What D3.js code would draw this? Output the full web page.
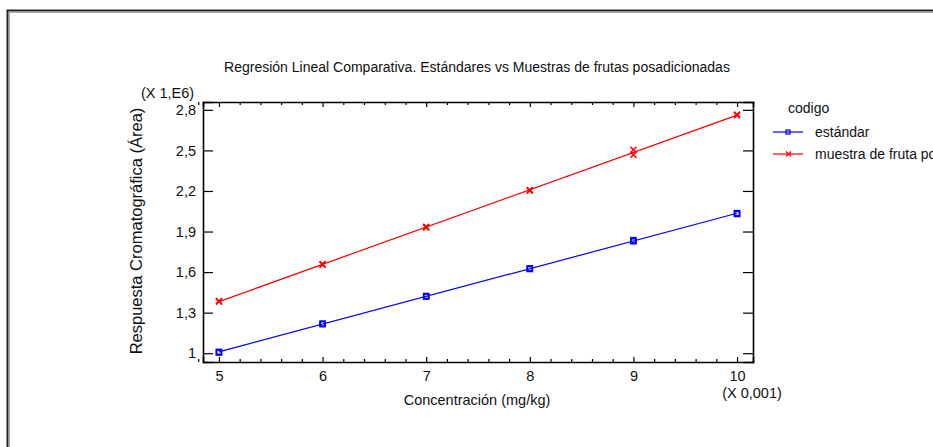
<!DOCTYPE html>
<html>
<head>
<meta charset="utf-8">
<script src="https://cdn.jsdelivr.net/npm/d3@7"></script>
<style>
  body { margin: 0; background: #fff; }
  svg { display: block; font-family: "Liberation Sans", Arial, sans-serif; }
</style>
</head>
<body>
<div id="chart"></div>
<script>
// concentration (X 0,001 mg/kg), each level measured twice
const concentraciones = [5, 5, 6, 6, 7, 7, 8, 8, 9, 9, 10, 10];
// area (X 1,E6)
const estandar = [1.005, 1.01, 1.215, 1.219, 1.419, 1.423, 1.623, 1.627, 1.828, 1.836, 2.030, 2.036];
const muestra = [1.382, 1.386, 1.655, 1.659, 1.930, 1.934, 2.203, 2.207, 2.468, 2.505, 2.760, 2.765];
const xTicks = [5, 6, 7, 8, 9, 10];
const yTicks = [1, 1.3, 1.6, 1.9, 2.2, 2.5, 2.8];
const seriesNames = ["estándar", "muestra de fruta posadicionada"];
const seriesColors = ["#0000ff", "#ff0000"];

const W = 933, H = 447;
const margin = { top: 102, left: 203 },
    width = 753 - margin.left,
    height = 362 - margin.top;

const svg = d3.select("#chart").append("svg")
    .attr("width", W)
    .attr("height", H);

// outer frame (double line)
svg.append("rect").attr("x", 7.5).attr("y", 10.5).attr("width", W + 20).attr("height", H + 20)
    .attr("fill", "none").attr("stroke", "#222").attr("stroke-width", 2);
svg.append("rect").attr("x", 9.5).attr("y", 12.5).attr("width", W + 20).attr("height", H + 20)
    .attr("fill", "none").attr("stroke", "#aaa").attr("stroke-width", 1);

const g = svg.append("g")
    .attr("transform", "translate(" + margin.left + "," + margin.top + ")");

const x = d3.scaleLinear().domain([4.846, 10.154]).range([0, width]);
const y = d3.scaleLinear().domain([0.935, 2.858]).range([height, 0]);

const minorX = d3.range(48, 102, 2).map(d => d / 10).filter(v => !xTicks.includes(v));

// bottom axis
g.append("g")
    .attr("transform", "translate(0," + height + ")")
    .call(d3.axisBottom(x).tickValues(xTicks).tickSize(-5).tickPadding(9).tickFormat(d3.format("d")));
g.append("g").attr("transform", "translate(0," + height + ")")
    .call(d3.axisBottom(x).tickValues(minorX).tickSize(-3).tickFormat(""))
    .select(".domain").remove();
// top axis
g.append("g")
    .call(d3.axisTop(x).tickValues(xTicks).tickSize(-5).tickFormat(""));
g.append("g")
    .call(d3.axisTop(x).tickValues(minorX).tickSize(-3).tickFormat(""))
    .select(".domain").remove();
// left axis
g.append("g")
    .call(d3.axisLeft(y).tickValues(yTicks).tickSize(-10).tickPadding(7)
        .tickFormat(d => d3.format(".1~f")(d).replace(".", ",")));
// right axis
g.append("g").attr("transform", "translate(" + width + ",0)")
    .call(d3.axisRight(y).tickValues(yTicks).tickSize(-10).tickFormat(""));

g.selectAll(".domain").attr("stroke", "#000").attr("stroke-width", 1.6);
g.selectAll(".tick line").attr("stroke", "#000").attr("stroke-width", 1.2);
g.selectAll(".tick text").attr("font-size", 14.5).attr("fill", "#111")
    .attr("font-family", "Liberation Sans, Arial, sans-serif");

// regression lines + points
function fit(xs, ys) {
    const mx = d3.mean(xs), my = d3.mean(ys);
    const b = d3.sum(xs, (v, i) => (v - mx) * (ys[i] - my)) / d3.sum(xs, v => (v - mx) * (v - mx));
    return { b: b, a: my - b * mx };
}

[estandar, muestra].forEach((vals, s) => {
    const f = fit(concentraciones, vals);
    const x0 = d3.min(concentraciones), x1 = d3.max(concentraciones);
    g.append("line")
        .attr("x1", x(x0)).attr("y1", y(f.a + f.b * x0))
        .attr("x2", x(x1)).attr("y2", y(f.a + f.b * x1))
        .attr("stroke", seriesColors[s]).attr("stroke-width", 1.2);

    const pts = g.append("g").selectAll("g")
        .data(concentraciones.map((c, i) => [c, vals[i]]))
        .enter().append("g")
        .attr("transform", d => "translate(" + x(d[0]) + "," + y(d[1]) + ")");
    if (s === 0) {
        pts.append("rect").attr("x", -2.5).attr("y", -2.5).attr("width", 5).attr("height", 5)
            .attr("fill", "none").attr("stroke", seriesColors[s]).attr("stroke-width", 1.6);
    } else {
        pts.append("path").attr("d", "M-3,-3L3,3M-3,3L3,-3")
            .attr("stroke", seriesColors[s]).attr("stroke-width", 1.6);
    }
});

// texts
svg.append("text").text("Regresión Lineal Comparativa. Estándares vs Muestras de frutas posadicionadas")
    .attr("x", 477).attr("y", 72).attr("text-anchor", "middle")
    .attr("font-size", 14).attr("fill", "#111");
svg.append("text").text("(X 1,E6)")
    .attr("x", 141).attr("y", 98).attr("font-size", 14.5).attr("fill", "#111");
svg.append("text").text("Respuesta Cromatográfica (Área)")
    .attr("transform", "translate(142,231) rotate(-90)").attr("text-anchor", "middle")
    .attr("font-size", 16.5).attr("fill", "#111");
svg.append("text").text("(X 0,001)")
    .attr("x", 752).attr("y", 398).attr("text-anchor", "middle")
    .attr("font-size", 14.5).attr("fill", "#111");
svg.append("text").text("Concentración (mg/kg)")
    .attr("x", 477).attr("y", 405).attr("text-anchor", "middle")
    .attr("font-size", 14.5).attr("fill", "#111");

// legend
const legend = svg.append("g").attr("transform", "translate(773,0)");
legend.append("text").text("codigo").attr("x", 15).attr("y", 113)
    .attr("font-size", 14).attr("fill", "#111");
seriesNames.forEach((name, i) => {
    const ly = 132 + i * 22;
    legend.append("line").attr("x1", 0).attr("x2", 30).attr("y1", ly).attr("y2", ly)
        .attr("stroke", seriesColors[i]).attr("stroke-width", 1.2);
    if (i === 0) {
        legend.append("rect").attr("x", 13).attr("y", ly - 2).attr("width", 4).attr("height", 4)
            .attr("fill", "none").attr("stroke", seriesColors[i]).attr("stroke-width", 1.2);
    } else {
        legend.append("path").attr("d", "M13," + (ly - 2.5) + "L18," + (ly + 2.5) + "M13," + (ly + 2.5) + "L18," + (ly - 2.5))
            .attr("stroke", seriesColors[i]).attr("stroke-width", 1.2);
    }
    legend.append("text").text(name).attr("x", 42).attr("y", ly + 5)
        .attr("font-size", 14).attr("fill", "#111");
});
</script>
</body>
</html>
